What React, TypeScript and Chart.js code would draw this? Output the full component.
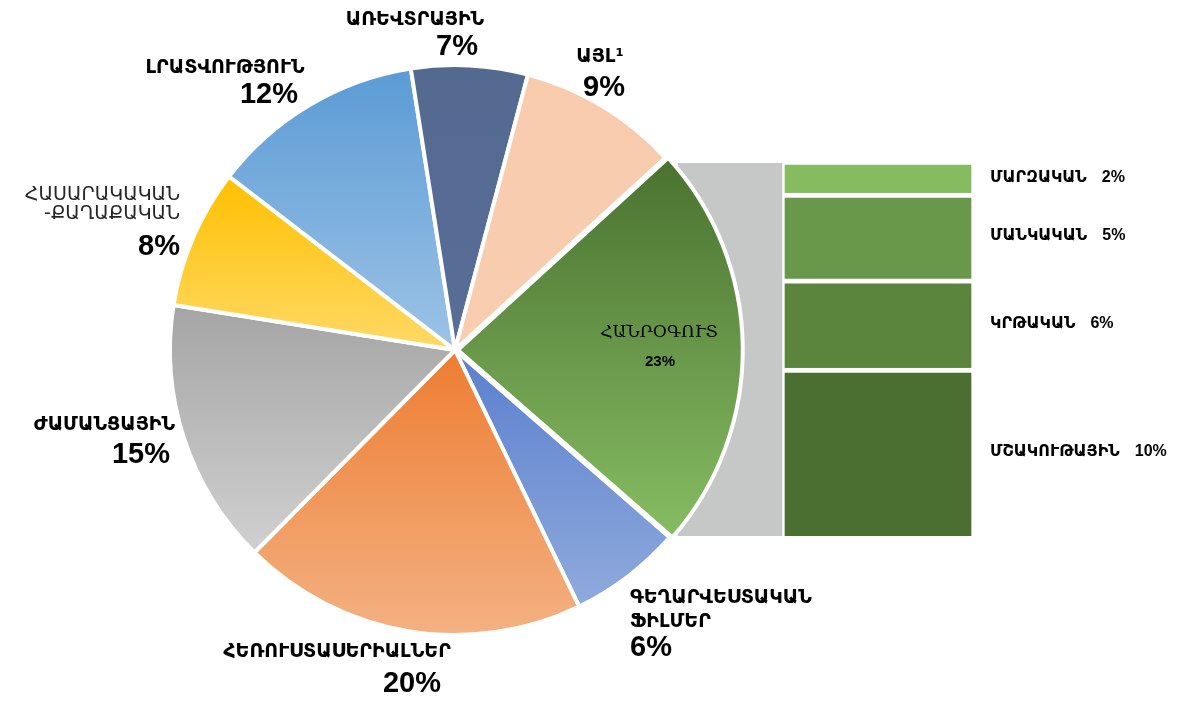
import React, { useEffect, useRef } from 'react';
import { Chart, registerables } from 'chart.js';

Chart.register(...registerables);

// ---------- data ----------
const pieCategories = [
  'ՀԱՆՐՕԳՈՒՏ',
  'ԳԵՂԱՐՎԵՍՏԱԿԱՆ ՖԻԼՄԵՐ',
  'ՀԵՌՈՒՍՏԱՍԵՐԻԱԼՆԵՐ',
  'ԺԱՄԱՆՑԱՅԻՆ',
  'ՀԱՍԱՐԱԿԱԿԱՆ-ՔԱՂԱՔԱԿԱՆ',
  'ԼՐԱՏՎՈՒԹՅՈՒՆ',
  'ԱՌԵՎՏՐԱՅԻՆ',
  'ԱՅԼ¹',
];
const pieValues = [23.2, 6.4, 19.6, 15.1, 7.9, 12.1, 6.6, 9.1];
const piePercentLabels = ['23%', '6%', '20%', '15%', '8%', '12%', '7%', '9%'];
const pieNameLines = [
  ['ՀԱՆՐՕԳՈՒՏ'],
  ['ԳԵՂԱՐՎԵՍՏԱԿԱՆ', 'ՖԻԼՄԵՐ'],
  ['ՀԵՌՈՒՍՏԱՍԵՐԻԱԼՆԵՐ'],
  ['ԺԱՄԱՆՑԱՅԻՆ'],
  ['ՀԱՍԱՐԱԿԱԿԱՆ', '-ՔԱՂԱՔԱԿԱՆ'],
  ['ԼՐԱՏՎՈՒԹՅՈՒՆ'],
  ['ԱՌԵՎՏՐԱՅԻՆ'],
  ['ԱՅԼ¹'],
];

const barCategories = ['ՄՇԱԿՈՒԹԱՅԻՆ', 'ԿՐԹԱԿԱՆ', 'ՄԱՆԿԱԿԱՆ', 'ՄԱՐԶԱԿԱՆ'];
const barValues = [10.36, 5.49, 5.3, 1.85];
const barPercentLabels = ['10%', '6%', '5%', '2%'];
const backdropValue = 23.0;

// ---------- styles ----------
const pieTopColors = ['#4A7230', '#5A7FCE', '#ED7D31', '#A5A5A5', '#FFC000', '#5B9BD5', '#536990', '#F8CBAD'];
const pieBottomColors = ['#86BC62', '#8FAADC', '#F4B183', '#D0D0D0', '#FFD966', '#9DC3E6', '#586E97', '#F8CDB0'];
const pieOffsets = [11, 0, 0, 0, 0, 0, 0, 0];
const barColors = ['#4A6F31', '#5B853D', '#6A984A', '#86BB60'];
const backdropColor = '#C6C7C7';

const ARM_BOLD = 'bold 19px "DejaVu Sans", sans-serif';
const PCT_BIG = 'bold 29px "Liberation Sans", Arial, sans-serif';

type LabelLayout = {
  name: { dx: number; dy: number; align: CanvasTextAlign; gap: number; font: string; color: string };
  pct: { dx: number; dy: number; align: CanvasTextAlign; font: string };
};

// label anchors relative to the pie centre
const pieLabelLayout: LabelLayout[] = [
  { name: { dx: 204, dy: -17, align: 'center', gap: 0, font: '17px "DejaVu Serif", serif', color: '#000' },
    pct: { dx: 205, dy: 12, align: 'center', font: 'bold 15px "Liberation Sans", Arial, sans-serif' } },
  { name: { dx: 175, dy: 248, align: 'left', gap: 24, font: ARM_BOLD, color: '#000' },
    pct: { dx: 175, dy: 298, align: 'left', font: PCT_BIG } },
  { name: { dx: -118, dy: 302, align: 'center', gap: 0, font: ARM_BOLD, color: '#000' },
    pct: { dx: -43, dy: 334, align: 'center', font: PCT_BIG } },
  { name: { dx: -280, dy: 75, align: 'right', gap: 0, font: ARM_BOLD, color: '#000' },
    pct: { dx: -285, dy: 105, align: 'right', font: PCT_BIG } },
  { name: { dx: -275, dy: -155, align: 'right', gap: 19, font: '19px "DejaVu Sans", sans-serif', color: '#262626' },
    pct: { dx: -275, dy: -103, align: 'right', font: PCT_BIG } },
  { name: { dx: -230, dy: -282, align: 'center', gap: 0, font: ARM_BOLD, color: '#000' },
    pct: { dx: -186, dy: -255, align: 'center', font: PCT_BIG } },
  { name: { dx: -40, dy: -330, align: 'center', gap: 0, font: ARM_BOLD, color: '#000' },
    pct: { dx: 2, dy: -303, align: 'center', font: PCT_BIG } },
  { name: { dx: 145, dy: -293, align: 'center', gap: 0, font: ARM_BOLD, color: '#000' },
    pct: { dx: 149, dy: -262, align: 'center', font: PCT_BIG } },
];

const sliceGradientPlugin = {
  id: 'sliceGradient',
  beforeDatasetsDraw(chart: any) {
    const meta = chart.getDatasetMeta(0);
    const ctx = chart.ctx as CanvasRenderingContext2D;
    meta.data.forEach((arc: any, i: number) => {
      const { y, startAngle, endAngle, outerRadius } = arc.getProps(
        ['y', 'startAngle', 'endAngle', 'outerRadius'],
        true
      );
      let top = y;
      let bottom = y;
      const consider = (a: number) => {
        const py = y + Math.sin(a) * outerRadius;
        top = Math.min(top, py);
        bottom = Math.max(bottom, py);
      };
      consider(startAngle);
      consider(endAngle);
      for (let k = -4; k <= 4; k++) {
        const a = Math.PI / 2 + k * Math.PI;
        if (a > startAngle && a < endAngle) consider(a);
      }
      const g = ctx.createLinearGradient(0, top, 0, bottom);
      g.addColorStop(0, pieTopColors[i]);
      g.addColorStop(1, pieBottomColors[i]);
      arc.options.backgroundColor = g;
    });
  },
};

const pieLabelPlugin = {
  id: 'pieLabels',
  afterDatasetsDraw(chart: any) {
    const meta = chart.getDatasetMeta(0);
    const first = meta.data[0];
    if (!first) return;
    const cx = first.x;
    const cy = first.y;
    const ctx = chart.ctx as CanvasRenderingContext2D;
    ctx.save();
    ctx.textBaseline = 'middle';
    pieLabelLayout.forEach((lay, i) => {
      ctx.font = lay.name.font;
      ctx.fillStyle = lay.name.color;
      ctx.textAlign = lay.name.align;
      pieNameLines[i].forEach((line, j) => {
        ctx.fillText(line, cx + lay.name.dx, cy + lay.name.dy + j * lay.name.gap);
      });
      ctx.font = lay.pct.font;
      ctx.fillStyle = '#000';
      ctx.textAlign = lay.pct.align;
      ctx.fillText(piePercentLabels[i], cx + lay.pct.dx, cy + lay.pct.dy);
    });
    ctx.restore();
  },
};

const barLabelPlugin = {
  id: 'barLabels',
  afterDatasetsDraw(chart: any) {
    const ctx = chart.ctx as CanvasRenderingContext2D;
    const x0 = chart.chartArea.right + 38;
    ctx.save();
    ctx.textBaseline = 'middle';
    ctx.textAlign = 'left';
    ctx.fillStyle = '#000';
    barCategories.forEach((name, i) => {
      const el = chart.getDatasetMeta(i + 1).data[1];
      if (!el) return;
      const { y, base } = el.getProps(['y', 'base'], true);
      const yc = (y + base) / 2;
      ctx.font = 'bold 16px "DejaVu Sans", sans-serif';
      ctx.fillText(name, x0, yc);
      const w = ctx.measureText(name).width;
      ctx.font = 'bold 16px "Liberation Sans", Arial, sans-serif';
      ctx.fillText(barPercentLabels[i], x0 + w + 15, yc);
    });
    ctx.restore();
  },
};

export default function App() {
  const pieRef = useRef<HTMLCanvasElement | null>(null);
  const barRef = useRef<HTMLCanvasElement | null>(null);

  useEffect(() => {
    if (!pieRef.current || !barRef.current) return;

    const barChart = new Chart(barRef.current, {
      type: 'bar',
      data: {
        labels: ['backdrop', 'breakdown'],
        datasets: [
          {
            label: 'backdrop',
            data: [backdropValue, null],
            backgroundColor: backdropColor,
            borderWidth: 0,
            barThickness: 104,
            clip: false,
          } as any,
          ...barCategories.map((c, i) => ({
            label: c,
            data: [null, barValues[i]],
            backgroundColor: barColors[i],
            borderColor: '#FFFFFF',
            borderWidth:
              i === barCategories.length - 1
                ? { top: 2, left: 2, right: 2, bottom: 0 }
                : { top: 5, left: 2, right: 2, bottom: 0 },
            borderSkipped: false,
            barThickness: 190,
            clip: false,
          })) as any[],
        ],
      },
      options: {
        responsive: false,
        animation: false,
        layout: { padding: { left: 0, right: 230, top: 0, bottom: 0 } },
        scales: {
          x: { display: false, stacked: true },
          y: { display: false, stacked: true, min: 0, max: backdropValue },
        },
        plugins: { legend: { display: false }, tooltip: { enabled: false } },
      },
      plugins: [barLabelPlugin],
    });

    const pieChart = new Chart(pieRef.current, {
      type: 'pie',
      data: {
        labels: pieCategories,
        datasets: [
          {
            data: pieValues,
            backgroundColor: pieTopColors,
            borderColor: '#FFFFFF',
            borderWidth: 4,
            offset: pieOffsets,
          } as any,
        ],
      },
      options: {
        responsive: false,
        animation: false,
        rotation: 47.6,
        radius: 285,
        layout: { padding: { left: 0, right: 272, top: 0, bottom: 3 } },
        plugins: { legend: { display: false }, tooltip: { enabled: false } },
      } as any,
      plugins: [sliceGradientPlugin, pieLabelPlugin],
    });

    return () => {
      pieChart.destroy();
      barChart.destroy();
    };
  }, []);

  return (
    <div style={{ position: 'absolute', left: 0, top: 0, width: 1182, height: 703, background: '#fff' }}>
      <canvas
        ref={barRef}
        width={526}
        height={373}
        style={{ position: 'absolute', left: 656, top: 163, display: 'block' }}
      />
      <canvas
        ref={pieRef}
        width={1182}
        height={703}
        style={{ position: 'absolute', left: 0, top: 0, display: 'block' }}
      />
    </div>
  );
}
